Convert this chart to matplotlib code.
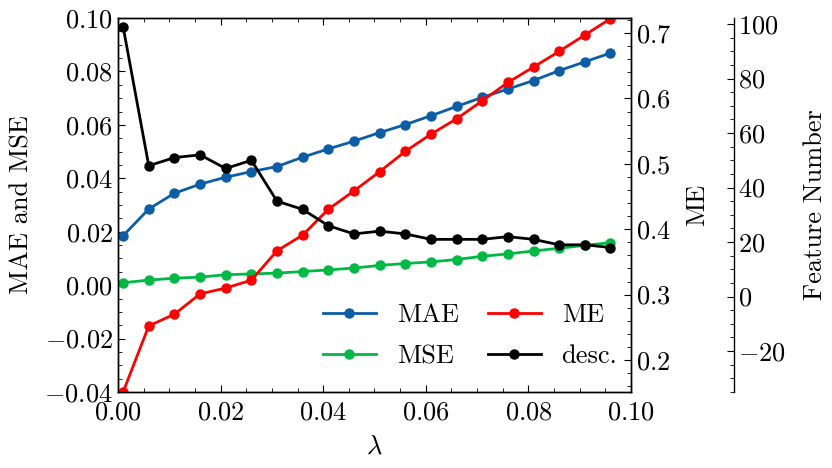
import matplotlib
matplotlib.use("Agg")
import matplotlib.pyplot as plt
from matplotlib.ticker import AutoMinorLocator

plt.rcParams['font.family'] = 'serif'
plt.rcParams['font.serif'] = ['cmr10']
plt.rcParams['mathtext.fontset'] = 'cm'
plt.rcParams['axes.formatter.use_mathtext'] = True
plt.rcParams['font.size'] = 19
plt.rcParams['xtick.direction'] = 'in'
plt.rcParams['ytick.direction'] = 'in'
plt.rcParams['xtick.major.size'] = 5
plt.rcParams['ytick.major.size'] = 5
plt.rcParams['xtick.minor.size'] = 3
plt.rcParams['ytick.minor.size'] = 3
plt.rcParams['xtick.minor.visible'] = True
plt.rcParams['ytick.minor.visible'] = True
plt.rcParams['xtick.top'] = True
plt.rcParams['xtick.major.pad'] = 6.5
plt.rcParams['axes.linewidth'] = 1.0

lam = [0.001, 0.006, 0.011, 0.016, 0.021, 0.026, 0.031, 0.036, 0.041, 0.046,
       0.051, 0.056, 0.061, 0.066, 0.071, 0.076, 0.081, 0.086, 0.091, 0.096]
mae = [0.0185, 0.0285, 0.0344, 0.0378, 0.0404, 0.0425, 0.0444, 0.0479, 0.0510, 0.0539,
       0.0571, 0.0601, 0.0634, 0.0669, 0.0703, 0.0734, 0.0766, 0.0803, 0.0836, 0.0869]
mse = [0.0009, 0.0019, 0.0026, 0.0030, 0.0039, 0.0042, 0.0045, 0.0051, 0.0057, 0.0064,
       0.0074, 0.0081, 0.0087, 0.0096, 0.0108, 0.0117, 0.0128, 0.0138, 0.0149, 0.0159]
me = [0.151, 0.252, 0.270, 0.301, 0.310, 0.322, 0.367, 0.391, 0.4305, 0.4585,
      0.488, 0.519, 0.5453, 0.5688, 0.5963, 0.6244, 0.648, 0.672, 0.697, 0.722]
desc = [99, 48, 51, 52, 47, 50, 35, 32, 26, 23,
        24, 23, 21, 21, 21, 22, 21, 19, 19, 18]

fig = plt.figure(figsize=(8.32, 4.68), dpi=100)
ax = fig.add_axes([0.1418, 0.1624, 0.6166, 0.7991])
lw = 2.0
ms = 6.5
l1, = ax.plot(lam, mae, marker='o', color='#0C5DA5', lw=lw, ms=ms, label='MAE')
l2, = ax.plot(lam, mse, marker='o', color='#00B945', lw=lw, ms=ms, label='MSE')
ax.set_xlim(0, 0.1)
ax.set_ylim(-0.04, 0.10)
ax.set_xlabel(r'$\lambda$', labelpad=7)
ax.set_ylabel('MAE and MSE', labelpad=8)
ax.tick_params(axis='y', which='both', right=False)

ax2 = ax.twinx()
l3, = ax2.plot(lam, me, marker='o', color='red', lw=lw, ms=ms, label='ME')
ax2.set_ylim(0.151, 0.723)
ax2.set_ylabel('ME', labelpad=10)
ax2.yaxis.set_minor_locator(AutoMinorLocator(5))

ax3 = ax.twinx()
ax3.spines['right'].set_position(('axes', 1.2))
ax3.spines['top'].set_visible(False)
ax3.spines['bottom'].set_visible(False)
ax3.spines['left'].set_visible(False)
l4, = ax3.plot(lam, desc, marker='o', color='black', lw=lw, ms=ms, label='desc.')
ax3.set_ylim(-35, 102.2)
ax3.set_ylabel('Feature Number', labelpad=12)
ax3.yaxis.set_minor_locator(AutoMinorLocator(4))

ax3.legend(handles=[l1, l2, l3, l4], ncol=2, frameon=False, loc='lower right',
           bbox_to_anchor=(1.02, 0.0), handlelength=2.0, columnspacing=1.1,
           labelspacing=0.66)

fig.savefig('out.png', dpi=100)
